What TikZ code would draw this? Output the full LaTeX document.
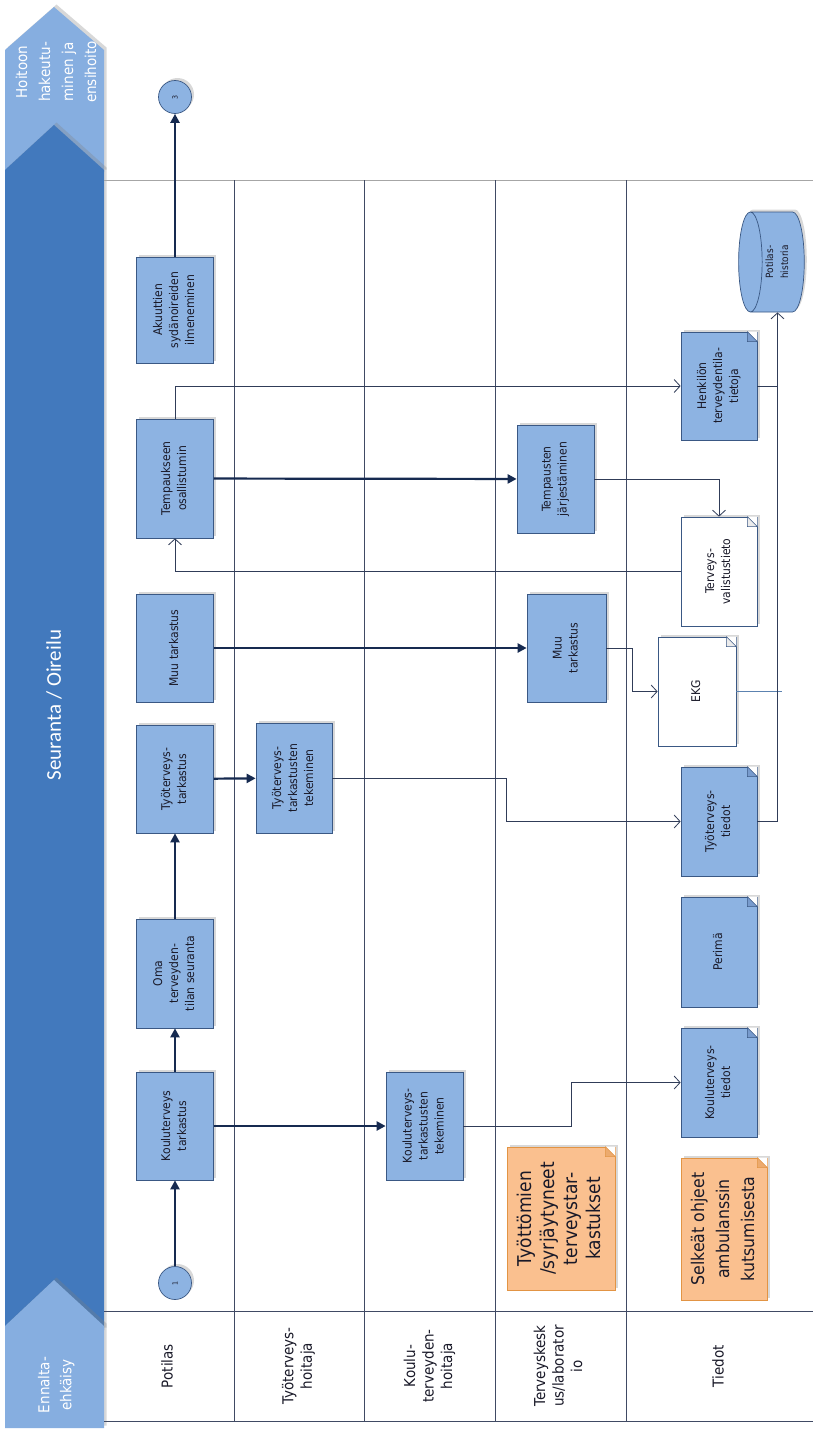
\documentclass[tikz,border=0pt]{standalone}
\usepackage{fontspec}
\setmainfont{DejaVu Sans}[FakeStretch=0.9]
\newfontfamily\titlefont{Carlito}
\usetikzlibrary{arrows.meta,shapes.geometric,shadows,calc}

\definecolor{barblue}{RGB}{66,121,189}
\definecolor{chevblue}{RGB}{134,174,224}
\definecolor{boxblue}{RGB}{141,179,226}
\definecolor{boxedge}{RGB}{58,88,132}
\definecolor{flapblue}{RGB}{120,155,205}
\definecolor{navy}{RGB}{22,42,80}
\definecolor{thinline}{RGB}{48,60,88}
\definecolor{laneline}{RGB}{64,74,100}
\definecolor{notefill}{RGB}{250,192,143}
\definecolor{noteedge}{RGB}{226,148,68}
\definecolor{noteflap}{RGB}{236,170,110}
\definecolor{ekgline}{RGB}{92,130,176}
\definecolor{txt}{RGB}{25,25,40}

% rotated, centred multi-line label
\newcommand{\rtext}[1]{\rotatebox{90}{\begin{tabular}{@{}c@{}}#1\end{tabular}}}
% folded top-right corner of a document node: #1 node, #2 flap fill, #3 edge colour
\newcommand{\dogear}[3]{%
  \fill[white] ($(#1.north east)+(-10,0)$) -- (#1.north east) -- ($(#1.north east)+(0,10)$) -- cycle;
  \filldraw[draw=#3, fill=#2, line width=0.6pt, line join=round]
    ($(#1.north east)+(-10,0)$) -- ($(#1.north east)+(0,10)$) -- ($(#1.north east)+(-10,10)$) -- cycle;
}

\tikzset{
  shade3/.style={drop shadow={shadow xshift=2.5pt, shadow yshift=2.5pt, opacity=0.3}},
  proc/.style={rectangle, draw=boxedge, fill=boxblue, line width=0.7pt, inner sep=0pt,
    minimum width=77pt, minimum height=108pt, text=txt,
    font=\fontsize{12}{16}\selectfont, shade3},
  blankdoc/.style={proc, fill=white},
  note/.style={proc, fill=notefill, draw=noteedge},
  joint/.style={circle, draw=boxedge, fill=boxblue, line width=0.7pt, minimum size=33pt,
    inner sep=0pt, font=\fontsize{7}{8}\selectfont, text=txt, shade3},
  store/.style={cylinder, shape border rotate=180, aspect=0.7, draw=boxedge, fill=boxblue,
    line width=0.7pt, minimum width=100pt, minimum height=63pt, inner sep=0pt,
    font=\fontsize{10}{15}\selectfont, text=txt, shade3},
  flow/.style={draw=navy, line width=2.2pt, -{Triangle[length=9pt,width=9pt]}},
  info/.style={draw=thinline, line width=0.8pt,
    -{Straight Barb[length=6pt,width=13pt,line width=0.8pt]}},
  lane/.style={draw=laneline, line width=0.7pt},
  lanehead/.style={font=\fontsize{15}{18.5}\selectfont, text=txt, inner sep=0pt},
  chevtext/.style={text=white, inner sep=0pt},
}

\begin{document}
\begin{tikzpicture}[x=1pt,y=-1pt]
\useasboundingbox (0,0) rectangle (813,1432);
\fill[white] (0,0) rectangle (813,1432);

% phase chevrons on the left
\fill[chevblue, shade3] (54,7) -- (104,50) -- (104,172) -- (5,172) -- (5,50) -- cycle;
\fill[barblue, shade3] (54,125) -- (104,170) -- (104,1330) -- (5,1330) -- (5,170) -- cycle;
\fill[chevblue, shade3] (54,1280) -- (104,1326) -- (104,1428) -- (5,1428) -- (5,1326) -- cycle;

\node[chevtext, font=\fontsize{15}{23}\selectfont] (ph1) at (57,72)
  {\rtext{Hoitoon\\hakeutu-\\minen ja\\ensihoito}};
\node[chevtext, font=\titlefont\fontsize{21}{25}\selectfont] (ph2) at (54,705)
  {\rotatebox{90}{Seuranta / Oireilu}};
\node[chevtext, font=\fontsize{15}{22}\selectfont] (ph3) at (56,1385)
  {\rtext{Ennalta-\\ehkäisy}};

% swim lanes
\draw[lane, draw=gray!70] (104,180) -- (813,180);
\draw[lane] (104,1311) -- (813,1311);
\draw[lane] (104,1421) -- (813,1421);
\foreach \lx in {234,364,495,626} \draw[lane] (\lx,180) -- (\lx,1421);

\node[lanehead] (l1) at (169,1366) {\rtext{Potilas}};
\node[lanehead] (l2) at (299,1366) {\rtext{Työterveys-\\hoitaja}};
\node[lanehead] (l3) at (430,1366) {\rtext{Koulu-\\terveyden-\\hoitaja}};
\node[lanehead] (l4) at (560,1366) {\rtext{Terveyskesk\\us/laborator\\io}};
\node[lanehead] (l5) at (720,1366) {\rtext{Tiedot}};

% patient lane
\node[joint] (c1) at (175,1283) {\rotatebox{90}{1}};
\node[joint] (c3) at (175,97) {\rotatebox{90}{3}};
\node[proc] (kt) at (175,1126) {\rtext{Kouluterveys\\tarkastus}};
\node[proc, minimum height=109pt] (oma) at (175,973.5) {\rtext{Oma\\terveyden-\\tilan seuranta}};
\node[proc] (tt) at (175,779) {\rtext{Työterveys-\\tarkastus}};
\node[proc] (muu) at (175,648) {\rtext{Muu tarkastus}};
\node[proc, minimum height=119pt] (temp) at (175,478.5) {\rtext{Tempaukseen\\osallistumin}};
\node[proc, minimum height=106pt] (akuut) at (175,310) {\rtext{Akuuttien\\sydänoireiden\\ilmeneminen}};

% nurses and health centre
\node[proc, minimum width=76pt, minimum height=110pt] (ttt) at (294,778) {\rtext{Työterveys-\\tarkastusten\\tekeminen}};
\node[proc] (ktt) at (424.5,1126) {\rtext{Kouluterveys-\\tarkastusten\\tekeminen}};
\node[proc, minimum width=79pt] (muutk) at (566.5,648) {\rtext{Muu\\tarkastus}};
\node[proc] (tempj) at (555.5,479) {\rtext{Tempausten\\järjestäminen}};
\node[note, minimum width=108pt, minimum height=143pt, font=\fontsize{19}{23}\selectfont] (n1) at (561,1218.5)
  {\rtext{Työttömien\\/syrjäytyneet\\terveystar-\\kastukset}};
\dogear{n1}{noteflap}{noteedge}

% records
\node[proc, minimum width=76pt] (hk) at (719,386) {\rtext{Henkilön\\terveydentila-\\tietoja}};
\dogear{hk}{flapblue}{boxedge}
\node[blankdoc, minimum width=76pt, minimum height=109pt] (tv) at (719,571.5) {\rtext{Terveys-\\valistustieto}};
\dogear{tv}{gray!15}{boxedge}
\node[blankdoc, minimum width=78pt, minimum height=109pt] (ekg) at (697,691.5) {\rtext{EKG}};
\dogear{ekg}{gray!15}{boxedge}
\node[proc, minimum width=76pt, minimum height=109pt] (ttd) at (719,821.5) {\rtext{Työterveys-\\tiedot}};
\dogear{ttd}{flapblue}{boxedge}
\node[proc, minimum width=76pt, minimum height=110pt] (per) at (719,952) {\rtext{Perimä}};
\dogear{per}{flapblue}{boxedge}
\node[proc, minimum width=76pt, minimum height=109pt] (ktd) at (719,1082.5) {\rtext{Kouluterveys-\\tiedot}};
\dogear{ktd}{flapblue}{boxedge}
\node[note, minimum width=86pt, minimum height=142pt, font=\fontsize{17.5}{25}\selectfont] (n2) at (724,1229)
  {\rtext{Selkeät ohjeet\\ambulanssin\\kutsumisesta}};
\dogear{n2}{noteflap}{noteedge}
\node[store] (hist) at (777.5,262) {\rtext{Potilas-\\historia}};

% bend points of the record links
\coordinate (bk) at (571,0);
\coordinate (bt) at (506,0);
\coordinate (be) at (632,0);
\coordinate (ekgend) at (782,691.5);

% main flow
\draw[flow] (c1) -- (kt);
\draw[flow] (kt) -- (oma);
\draw[flow] (oma) -- (tt);
\draw[flow] (akuut) -- (c3);
\draw[flow] (kt) -- (ktt);
\draw[flow] (tt) -- (ttt);
\draw[flow] (muu) -- (muutk);
\draw[flow] (temp) -- (tempj);

% information links
\draw[info] (ktt.east) -- (ktt.east -| bk) |- (ktd.west);
\draw[info] (ttt.east) -- (ttt.east -| bt) |- (ttd.west);
\draw[info] (muutk.east) -- (muutk.east -| be) |- (ekg.west);
\draw[draw=ekgline, line width=0.8pt] (ekg.east) -- (ekgend);
\draw[info] (tempj.east) -| (tv.north);
\draw[info] (tv.west) -| (temp.south);
\draw[info] (temp.north) |- (hk.west);
\draw[thinline, line width=0.8pt] (hk.east) -- (hk.east -| hist.south);
\draw[info] (ttd.east) -| (hist.south);
\end{tikzpicture}
\end{document}
